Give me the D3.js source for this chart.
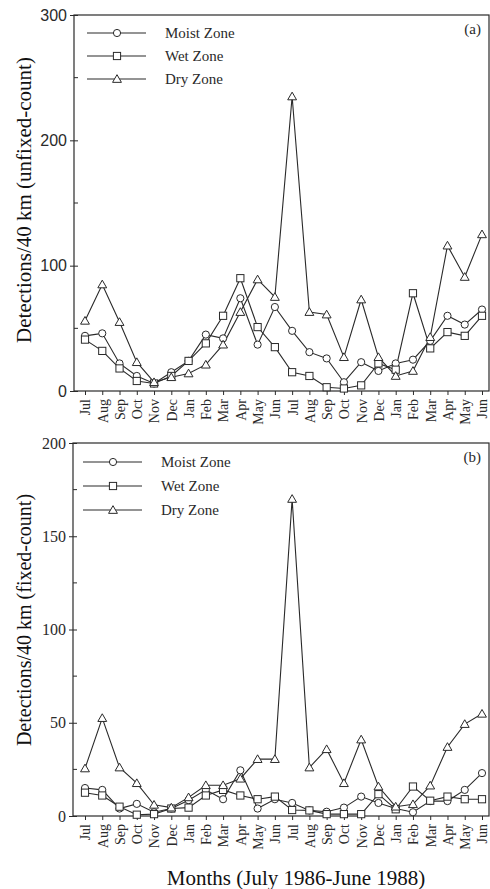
<!DOCTYPE html>
<html>
<head>
<meta charset="utf-8">
<script src="https://cdn.jsdelivr.net/npm/d3@7"></script>
<style>
  body { margin: 0; background: #fff; }
  svg { display: block; }
</style>
</head>
<body>
<svg id="chart" width="490" height="889"></svg>
<script>
// Months July 1986 - June 1988
const months = ["Jul","Aug","Sep","Oct","Nov","Dec","Jan","Feb","Mar","Apr","May","Jun",
                "Jul","Aug","Sep","Oct","Nov","Dec","Jan","Feb","Mar","Apr","May","Jun"];

const seriesNames = ["Moist Zone", "Wet Zone", "Dry Zone"];

// (a) unfixed-count
const moistA = [44, 46, 22, 12, 6, 15, 24, 45, 42, 74, 37, 67, 48, 31, 26, 7, 23, 16, 22, 25, 40, 60, 53, 65];
const wetA   = [41, 32, 18, 8, 6, 12, 24, 38, 60, 90, 51, 35, 15, 12, 3, 2, 4.5, 22, 17, 78, 34, 47, 44, 60];
const dryA   = [56, 85, 55, 23, 7, 11, 14, 21, 37, 63, 89, 75, 235, 63, 61, 27, 73, 27, 12, 16, 43, 116, 91, 125];

// (b) fixed-count
const moistB = [15, 14, 4, 6.5, 2, 4, 8.5, 14, 9, 24.5, 4, 9, 7, 3, 2.3, 4.5, 10.4, 7, 4, 2, 8, 8, 14, 23];
const wetB   = [12.5, 11, 5, 0.7, 1, 4, 4.5, 11, 14, 11, 9, 10.4, 3.2, 3, 1, 1, 1, 11.7, 3.6, 15.8, 8.2, 10.4, 9, 9];
const dryB   = [25.5, 52.5, 26, 17.6, 6, 4.5, 10, 16.5, 16.5, 20, 30.5, 30.5, 170, 26, 35.8, 17.6, 41, 15.8, 5, 6.3, 16.3, 37, 49.3, 54.8];

const ticksA = [0, 100, 200, 300];
const minorA = [50, 150, 250];
const ticksB = [0, 50, 100, 150, 200];
const minorB = [25, 75, 125, 175];

const svg = d3.select("#chart");
const ink = "#2a2a2a";
const serif = "'Liberation Serif', 'DejaVu Serif', serif";
const sans = "'Liberation Sans', Arial, sans-serif";

const shapes = ["circle", "square", "triangle"];

function marker(g, shape, cx, cy) {
    if (shape === "circle") {
        g.append("circle").attr("cx", cx).attr("cy", cy).attr("r", 3.6)
            .attr("fill", "#fff").attr("stroke", ink).attr("stroke-width", 1);
    } else if (shape === "square") {
        g.append("rect").attr("x", cx - 3.6).attr("y", cy - 3.6).attr("width", 7.2).attr("height", 7.2)
            .attr("fill", "#fff").attr("stroke", ink).attr("stroke-width", 1);
    } else {
        const s = d3.symbol().type(d3.symbolTriangle).size(34);
        g.append("path").attr("d", s()).attr("transform", `translate(${cx},${cy + 0.8})`)
            .attr("fill", "#fff").attr("stroke", ink).attr("stroke-width", 1);
    }
}

function panel(opts) {
    const { left, right, top, bottom, yMax, ticks, minor, data, tickFont, tickSize, tag, legendX, legendY, legendGap, yLabel, yLabelSize, yLabelY, labelGap } = opts;

    const x = d3.scalePoint().domain(d3.range(months.length)).range([85, 482]);
    const y = d3.scaleLinear().domain([0, yMax]).range([bottom, top]);

    const g = svg.append("g");

    // frame
    g.append("rect").attr("x", left).attr("y", top).attr("width", right - left).attr("height", bottom - top)
        .attr("fill", "none").attr("stroke", ink).attr("stroke-width", 1.2);

    // y axis
    const yAxis = g.append("g").attr("transform", `translate(${left},0)`)
        .call(d3.axisLeft(y).tickValues(ticks).tickSize(4).tickPadding(3));
    yAxis.select(".domain").remove();
    yAxis.selectAll(".tick line").attr("x2", 4).attr("x1", -4).attr("stroke", ink);
    yAxis.selectAll(".tick text").style("font-family", tickFont).style("font-size", tickSize + "px").attr("fill", ink);

    g.selectAll(".minor").data(minor).enter().append("line")
        .attr("x1", left).attr("x2", left + 4)
        .attr("y1", d => y(d)).attr("y2", d => y(d))
        .attr("stroke", ink);

    // x axis
    const xAxis = g.append("g").attr("transform", `translate(0,${bottom})`)
        .call(d3.axisBottom(x).tickSize(4).tickFormat(i => months[i]));
    xAxis.select(".domain").remove();
    xAxis.selectAll(".tick line").attr("stroke", ink);
    xAxis.selectAll(".tick text")
        .style("font-family", serif).style("font-size", "14px").attr("fill", ink)
        .attr("transform", "rotate(-90)")
        .attr("text-anchor", "end")
        .attr("x", -labelGap).attr("y", 0).attr("dy", "0.35em");

    // lines and markers
    const line = d3.line().x((d, i) => x(i)).y(d => y(d));
    data.forEach((vals, k) => {
        g.append("path").datum(vals).attr("d", line)
            .attr("fill", "none").attr("stroke", ink).attr("stroke-width", 1.1);
    });
    data.forEach((vals, k) => {
        const mg = g.append("g");
        vals.forEach((v, i) => marker(mg, shapes[k], x(i), y(v)));
    });

    // legend
    seriesNames.forEach((name, k) => {
        const ly = legendY + k * legendGap;
        g.append("line").attr("x1", legendX).attr("x2", legendX + 59)
            .attr("y1", ly).attr("y2", ly).attr("stroke", ink).attr("stroke-width", 1.1);
        marker(g, shapes[k], legendX + 30, ly);
        g.append("text").attr("x", legendX + 78).attr("y", ly).attr("dy", "0.35em")
            .style("font-family", serif).style("font-size", "15px").attr("fill", ink)
            .text(name);
    });

    g.append("text").attr("x", right - 8).attr("y", top + 19)
        .attr("text-anchor", "end")
        .style("font-family", serif).style("font-size", "15px").attr("fill", ink)
        .text(tag);

    // y label
    g.append("text")
        .attr("transform", `translate(31,${yLabelY}) rotate(-90)`)
        .attr("text-anchor", "middle")
        .style("font-family", serif).style("font-size", yLabelSize + "px").attr("fill", "#111")
        .text(yLabel);
}

panel({
    left: 74, right: 489, top: 15, bottom: 391, yMax: 300,
    ticks: ticksA, minor: minorA, data: [moistA, wetA, dryA],
    tickFont: sans, tickSize: 16, tag: "(a)",
    legendX: 87, legendY: 33, legendGap: 23,
    yLabel: "Detections/40 km (unfixed-count)", yLabelSize: 21, yLabelY: 200,
    labelGap: 8
});

panel({
    left: 73, right: 489, top: 443, bottom: 816, yMax: 200,
    ticks: ticksB, minor: minorB, data: [moistB, wetB, dryB],
    tickFont: serif, tickSize: 16, tag: "(b)",
    legendX: 83, legendY: 462, legendGap: 24,
    yLabel: "Detections/40 km (fixed-count)", yLabelSize: 20, yLabelY: 620,
    labelGap: 8
});

svg.append("text").attr("x", 296).attr("y", 885)
    .attr("text-anchor", "middle")
    .style("font-family", serif).style("font-size", "21px").attr("fill", "#111")
    .text("Months (July 1986-June 1988)");
</script>
</body>
</html>
